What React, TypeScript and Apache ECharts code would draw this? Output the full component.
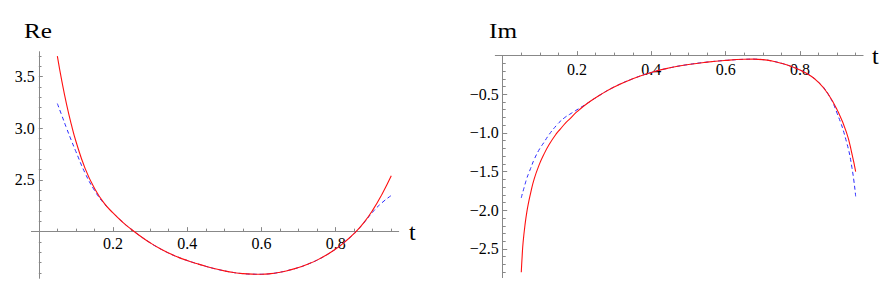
import React, { useEffect, useRef } from "react";
import * as echarts from "echarts";

// ---- Data ----
const tRe = [0.05, 0.0625, 0.075, 0.0875, 0.1, 0.125, 0.15, 0.175, 0.2, 0.225, 0.25, 0.275, 0.3, 0.325, 0.35, 0.375, 0.4, 0.425, 0.45, 0.475, 0.5, 0.525, 0.55, 0.575, 0.6, 0.625, 0.65, 0.675, 0.7, 0.725, 0.75, 0.775, 0.8, 0.825, 0.85, 0.875, 0.9, 0.925, 0.95];
const reExact = [3.70, 3.45, 3.23, 3.04, 2.875, 2.61, 2.42, 2.28, 2.181, 2.095, 2.02, 1.953, 1.892, 1.838, 1.792, 1.753, 1.72, 1.691, 1.664, 1.64, 1.62, 1.604, 1.593, 1.588, 1.587, 1.593, 1.607, 1.627, 1.652, 1.685, 1.724, 1.773, 1.831, 1.901, 1.982, 2.082, 2.208, 2.362, 2.54];
const reApprox = [3.24, 3.12, 3.00, 2.885, 2.775, 2.565, 2.40, 2.275, 2.181, 2.095, 2.02, 1.953, 1.892, 1.838, 1.792, 1.753, 1.72, 1.691, 1.664, 1.64, 1.62, 1.604, 1.593, 1.588, 1.587, 1.593, 1.607, 1.627, 1.652, 1.685, 1.724, 1.773, 1.831, 1.901, 1.982, 2.08, 2.19, 2.28, 2.35];

const tIm = [0.05, 0.0525, 0.055, 0.06, 0.065, 0.07, 0.075, 0.085, 0.1, 0.11, 0.125, 0.145, 0.155, 0.17, 0.18, 0.2, 0.23, 0.262, 0.3, 0.35, 0.4, 0.45, 0.5, 0.55, 0.6, 0.65, 0.675, 0.7, 0.725, 0.75, 0.775, 0.8, 0.825, 0.85, 0.875, 0.9, 0.925, 0.94, 0.95];
const imExact = [-2.80, -2.58, -2.41, -2.19, -2.02, -1.89, -1.78, -1.59, -1.39, -1.285, -1.15, -1.005, -0.95, -0.865, -0.82, -0.725, -0.61, -0.509, -0.405, -0.30, -0.218, -0.158, -0.115, -0.084, -0.062, -0.048, -0.046, -0.052, -0.07, -0.099, -0.137, -0.186, -0.25, -0.345, -0.49, -0.70, -0.99, -1.27, -1.50];
const imApprox = [-1.84, -1.79, -1.75, -1.665, -1.585, -1.52, -1.46, -1.34, -1.20, -1.13, -1.02, -0.90, -0.85, -0.79, -0.76, -0.70, -0.61, -0.509, -0.405, -0.30, -0.218, -0.158, -0.115, -0.084, -0.062, -0.048, -0.046, -0.052, -0.07, -0.099, -0.137, -0.186, -0.25, -0.345, -0.49, -0.745, -1.11, -1.45, -1.82];

const xLabelTicks = [0.2, 0.4, 0.6, 0.8];
const xMinorTicks = [0.05, 0.1, 0.15, 0.25, 0.3, 0.35, 0.45, 0.5, 0.55, 0.65, 0.7, 0.75, 0.85, 0.9, 0.95];
const reYLabelTicks = [2.5, 3.0, 3.5];
const reYMinorTicks = [1.6, 1.7, 1.8, 1.9, 2.1, 2.2, 2.3, 2.4, 2.6, 2.7, 2.8, 2.9, 3.1, 3.2, 3.3, 3.4, 3.6, 3.7];
const imYLabelTicks = [-2.5, -2.0, -1.5, -1.0, -0.5];
const imYMinorTicks = [-2.8, -2.7, -2.6, -2.4, -2.3, -2.2, -2.1, -1.9, -1.8, -1.7, -1.6, -1.4, -1.3, -1.2, -1.1, -0.9, -0.8, -0.7, -0.6, -0.4, -0.3, -0.2, -0.1];

const FONT = "Liberation Serif";
const AXIS_COLOR = "#888888";
const RED = "#ff1010";
const BLUE = "#2a2aff";

function pairs(t: number[], v: number[]) {
  return t.map((x, i) => [x, v[i]]);
}

export default function App() {
  const ref = useRef<HTMLDivElement>(null);
  useEffect(() => {
    if (!ref.current) return;
    const chart = echarts.init(ref.current, null, { renderer: "svg" });

    const hiddenX = (grid: number, min: number, max: number) => ({
      type: "value", gridIndex: grid, min, max, show: false,
    });
    const hiddenY = (grid: number) => ({
      type: "value", gridIndex: grid, min: 0, max: 1, show: false,
    });
    const labelStyle = { color: "#000", fontFamily: FONT, fontSize: 16, fontWeight: "normal" };
    const tickAxisX = (grid: number, ticks: number[], len: number, labels: boolean, margin: number) => ({
      type: "value", gridIndex: grid, min: -0.02, max: 0.97, position: "bottom",
      axisLine: { show: labels, onZero: false, lineStyle: { color: AXIS_COLOR, width: 1 } },
      axisTick: { show: true, inside: true, length: len, customValues: ticks, lineStyle: { color: AXIS_COLOR } },
      axisLabel: labels
        ? { show: true, customValues: ticks, margin, ...labelStyle, formatter: (v: number) => v.toFixed(1) }
        : { show: false },
      splitLine: { show: false },
    });
    const tickAxisY = (grid: number, min: number, max: number, ticks: number[], len: number, labels: boolean, fmt: (v: number) => string) => ({
      type: "value", gridIndex: grid, min, max, position: "left",
      axisLine: { show: labels, onZero: false, lineStyle: { color: AXIS_COLOR, width: 1 } },
      axisTick: { show: true, inside: true, length: len, customValues: ticks, lineStyle: { color: AXIS_COLOR } },
      axisLabel: labels
        ? { show: true, customValues: ticks, margin: 4, ...labelStyle, formatter: fmt }
        : { show: false },
      splitLine: { show: false },
    });

    const reFmt = (v: number) => v.toFixed(1);
    const imFmt = (v: number) => "\u2212" + Math.abs(v).toFixed(1);

    const lineSeries = (xi: number, yi: number, t: number[], v: number[], dashed: boolean) => ({
      type: "line", xAxisIndex: xi, yAxisIndex: yi, data: pairs(t, v),
      showSymbol: false, smooth: 0.5,
      lineStyle: dashed ? { color: BLUE, width: 1, type: [4, 3] } : { color: RED, width: 1.1 },
      z: dashed ? 2 : 3,
    });

    const title = (text: string, x: number, y: number, size: number, sx: number) => ({
      type: "text", x, y, scaleX: sx,
      style: { text, fontFamily: FONT, fontSize: size, fill: "#000", align: "left", verticalAlign: "middle" },
    });

    chart.setOption({
      animation: false,
      backgroundColor: "#ffffff",
      grid: [
        { left: 38.8, top: 51.7, width: 359.9, height: 226.6 },   // Re data + y axis
        { left: 31.4, top: 51.7, width: 367.3, height: 179.95 },  // Re x axis
        { left: 502.7, top: 55.6, width: 360.4, height: 222 },    // Im data + y axis
        { left: 495.3, top: 20, width: 367.8, height: 35.6 },     // Im x axis
      ],
      xAxis: [
        hiddenX(0, 0, 0.97),
        tickAxisX(1, xLabelTicks, 4.5, true, 4),
        tickAxisX(1, xMinorTicks, 3, false, 4),
        hiddenX(2, 0, 0.97),
        tickAxisX(3, xLabelTicks, 4.5, true, 6),
        tickAxisX(3, xMinorTicks, 3, false, 6),
      ],
      yAxis: [
        tickAxisY(0, 1.548, 3.742, reYLabelTicks, 4, true, reFmt),
        tickAxisY(0, 1.548, 3.742, reYMinorTicks, 2.7, false, reFmt),
        hiddenY(1),
        tickAxisY(2, -2.87, 0, imYLabelTicks, 4.5, true, imFmt),
        tickAxisY(2, -2.87, 0, imYMinorTicks, 3, false, imFmt),
        hiddenY(3),
      ],
      series: [
        lineSeries(0, 0, tRe, reApprox, true),
        lineSeries(0, 0, tRe, reExact, false),
        lineSeries(3, 3, tIm, imApprox, true),
        lineSeries(3, 3, tIm, imExact, false),
      ],
      graphic: [
        title("Re", 24, 31, 21, 1.2),
        title("Im", 489, 31, 21, 1.2),
        title("t", 409, 232, 24, 1),
        title("t", 872, 56, 24, 1),
      ],
    });
    return () => chart.dispose();
  }, []);
  return (
    <div
      ref={ref}
      style={{ position: "absolute", left: 0, top: 0, width: 887, height: 291, background: "#fff" }}
    />
  );
}
